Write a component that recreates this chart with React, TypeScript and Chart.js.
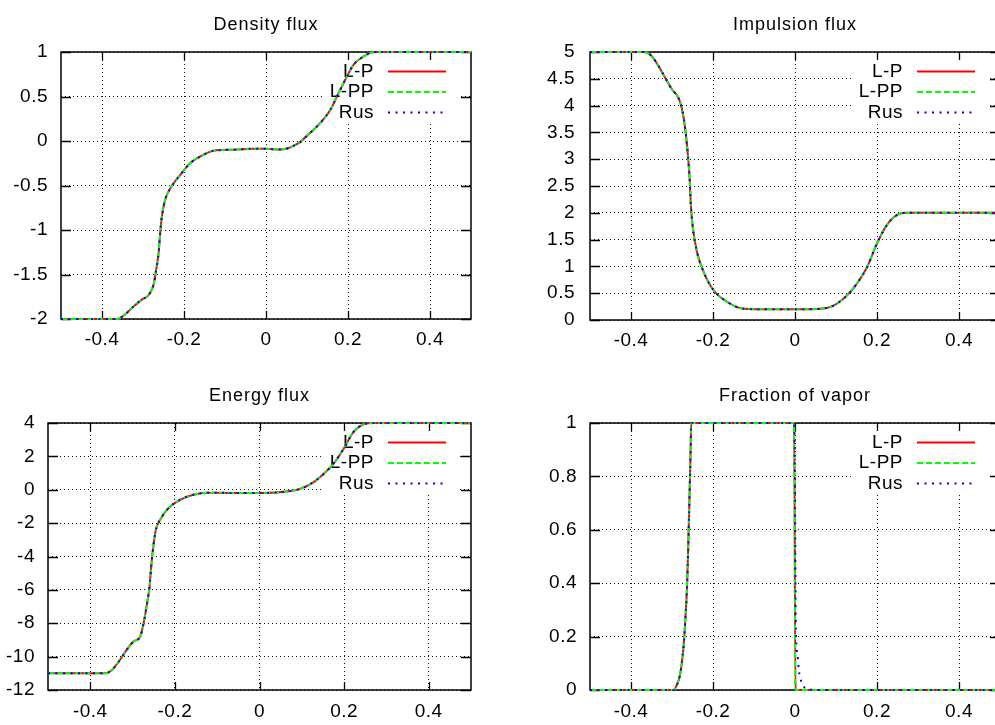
import React, { useEffect, useRef } from 'react';
import { Chart, registerables } from 'chart.js';

Chart.register(...registerables);

// ---------- data ----------
const seriesNames = ['L-P', 'L-PP', 'Rus'];
const seriesColors = ['#ff0000', '#00ff00', '#0000ff'];
const xTicks = [-0.4, -0.2, 0, 0.2, 0.4];

const densityYTicks = [-2, -1.5, -1, -0.5, 0, 0.5, 1];
const impulsionYTicks = [0, 0.5, 1, 1.5, 2, 2.5, 3, 3.5, 4, 4.5, 5];
const energyYTicks = [-12, -10, -8, -6, -4, -2, 0, 2, 4];
const vaporYTicks = [0, 0.2, 0.4, 0.6, 0.8, 1];

const densityX = [-0.5, -0.4, -0.363, -0.347, -0.323, -0.302, -0.286, -0.274, -0.268, -0.262, -0.258, -0.254, -0.246, -0.233, -0.209, -0.185, -0.152, -0.128, -0.079, -0.03, 0.0, 0.035, 0.051, 0.067, 0.084, 0.1, 0.116, 0.132, 0.157, 0.173, 0.198, 0.214, 0.238, 0.254, 0.27, 0.5];
const densityY = [-2, -2, -2, -1.96, -1.86, -1.78, -1.73, -1.61, -1.45, -1.26, -1.03, -0.85, -0.66, -0.53, -0.38, -0.25, -0.154, -0.109, -0.098, -0.087, -0.088, -0.095, -0.085, -0.055, -0.01, 0.06, 0.127, 0.2, 0.35, 0.5, 0.73, 0.86, 0.95, 0.99, 1, 1];

const impulsionX = [-0.5, -0.369, -0.353, -0.337, -0.316, -0.3, -0.284, -0.276, -0.268, -0.262, -0.257, -0.254, -0.249, -0.239, -0.223, -0.199, -0.166, -0.125, -0.068, 0.0, 0.062, 0.094, 0.127, 0.151, 0.176, 0.2, 0.224, 0.249, 0.273, 0.5];
const impulsionY = [5, 5, 4.95, 4.79, 4.51, 4.3, 4.14, 3.95, 3.58, 3.14, 2.64, 2.14, 1.71, 1.27, 0.9, 0.56, 0.34, 0.21, 0.2, 0.2, 0.21, 0.27, 0.46, 0.68, 0.99, 1.43, 1.77, 1.96, 2, 2];

const energyX = [-0.5, -0.365, -0.349, -0.33, -0.314, -0.298, -0.282, -0.274, -0.267, -0.26, -0.256, -0.251, -0.245, -0.235, -0.215, -0.188, -0.156, -0.125, 0.0, 0.073, 0.097, 0.128, 0.152, 0.175, 0.199, 0.222, 0.246, 0.27, 0.5];
const energyY = [-11, -11, -10.8, -10.2, -9.6, -9.1, -8.8, -8.0, -7.0, -5.8, -4.6, -3.4, -2.4, -1.8, -1.1, -0.6, -0.3, -0.18, -0.2, -0.08, 0.06, 0.46, 0.96, 1.56, 2.46, 3.46, 3.92, 4, 4];

const vaporX = [-0.5, -0.296, -0.288, -0.28, -0.272, -0.268, -0.263, -0.259, -0.255, -0.253, -0.002, 0.001, 0.5];
const vaporY = [0, 0, 0.02, 0.06, 0.16, 0.25, 0.4, 0.62, 0.87, 1, 1, 0, 0];
const vaporRusX = [-0.5, -0.296, -0.288, -0.28, -0.272, -0.268, -0.263, -0.259, -0.255, -0.253, -0.002, 0.0, 0.001, 0.002, 0.004, 0.007, 0.009, 0.013, 0.017, 0.025, 0.037, 0.05, 0.5];
const vaporRusY = [0, 0, 0.02, 0.06, 0.16, 0.25, 0.4, 0.62, 0.87, 1, 1, 0.75, 0.45, 0.25, 0.16, 0.12, 0.08, 0.045, 0.025, 0.007, 0.002, 0, 0];

// ---------- styling / layout ----------
const FONT = '"Liberation Sans", Arial, Helvetica, sans-serif';
const dashes: number[][] = [[], [6, 3], [2, 5.5]];

type Panel = {
  title: string;
  xs: number[][];
  ys: number[][];
  yMin: number;
  yMax: number;
  yTicks: number[];
  left: number;
  top: number;
  width: number;
  height: number;
  yAxisW: number;
  padTop: number;
  padRight: number;
  xAxisH: number;
  yPad: number;
  xPad: number;
};

const panels: Panel[] = [
  {
    title: 'Density flux',
    xs: [densityX, densityX, densityX],
    ys: [densityY, densityY, densityY],
    yMin: -2, yMax: 1, yTicks: densityYTicks,
    left: 0, top: 0, width: 497, height: 362,
    yAxisW: 61, padTop: 52, padRight: 26, xAxisH: 43, yPad: 13, xPad: 9,
  },
  {
    title: 'Impulsion flux',
    xs: [impulsionX, impulsionX, impulsionX],
    ys: [impulsionY, impulsionY, impulsionY],
    yMin: 0, yMax: 5, yTicks: impulsionYTicks,
    left: 497, top: 0, width: 530, height: 362,
    yAxisW: 93, padTop: 52, padRight: 27, xAxisH: 42, yPad: 15, xPad: 9,
  },
  {
    title: 'Energy flux',
    xs: [energyX, energyX, energyX],
    ys: [energyY, energyY, energyY],
    yMin: -12, yMax: 4, yTicks: energyYTicks,
    left: 0, top: 362, width: 497, height: 363,
    yAxisW: 48, padTop: 61, padRight: 26, xAxisH: 35, yPad: 13, xPad: 10,
  },
  {
    title: 'Fraction of vapor',
    xs: [vaporX, vaporX, vaporRusX],
    ys: [vaporY, vaporY, vaporRusY],
    yMin: 0, yMax: 1, yTicks: vaporYTicks,
    left: 497, top: 362, width: 530, height: 363,
    yAxisW: 93, padTop: 61, padRight: 27, xAxisH: 35, yPad: 13, xPad: 10,
  },
];

function makePlugin(p: Panel) {
  return {
    id: 'gnuplotDecor',
    beforeDraw(chart: any) {
      try { chart.ctx.letterSpacing = '0.5px'; } catch (e) { /* ignore */ }
    },
    beforeDatasetsDraw(chart: any) {
      const ctx = chart.ctx as CanvasRenderingContext2D;
      const ca = chart.chartArea;
      const xs = chart.scales.x;
      const ys = chart.scales.y;
      ctx.save();
      // legend background
      const R = ca.right;
      ctx.fillStyle = '#ffffff';
      ctx.fillRect(R - 147, ca.top + 4, 135, 68);
      // frame
      ctx.strokeStyle = '#000';
      ctx.lineWidth = 1.5;
      ctx.setLineDash([]);
      ctx.strokeRect(ca.left, ca.top, ca.right - ca.left, ca.bottom - ca.top);
      // inner ticks (mirrored)
      ctx.lineWidth = 1.3;
      ctx.beginPath();
      xTicks.forEach((v) => {
        const px = Math.round(xs.getPixelForValue(v)) + 0.5;
        ctx.moveTo(px, ca.bottom);
        ctx.lineTo(px, ca.bottom - 8);
        ctx.moveTo(px, ca.top);
        ctx.lineTo(px, ca.top + 8);
      });
      p.yTicks.forEach((v) => {
        const py = Math.round(ys.getPixelForValue(v)) + 0.5;
        ctx.moveTo(ca.left, py);
        ctx.lineTo(ca.left + 10, py);
        ctx.moveTo(ca.right, py);
        ctx.lineTo(ca.right - 10, py);
      });
      ctx.stroke();
      // legend entries
      ctx.font = `19px ${FONT}`;
      ctx.textAlign = 'right';
      ctx.textBaseline = 'middle';
      ctx.fillStyle = '#000';
      seriesNames.forEach((name, i) => {
        const y = ca.top + 19.5 + 20.5 * i;
        ctx.fillText(name, R - 97, y);
        ctx.strokeStyle = seriesColors[i];
        ctx.lineWidth = 2;
        ctx.setLineDash(dashes[i]);
        ctx.beginPath();
        ctx.moveTo(R - 83, y);
        ctx.lineTo(R - 25, y);
        ctx.stroke();
      });
      ctx.setLineDash([]);
      // title
      try { (ctx as any).letterSpacing = '1px'; } catch (e) { /* ignore */ }
      ctx.font = `18px ${FONT}`;
      ctx.textAlign = 'center';
      ctx.textBaseline = 'alphabetic';
      ctx.fillStyle = '#000';
      ctx.fillText(p.title, (ca.left + ca.right) / 2, ca.top - 22);
      ctx.restore();
    },
  };
}

function PanelChart({ p }: { p: Panel }) {
  const ref = useRef<HTMLCanvasElement>(null);
  useEffect(() => {
    const canvas = ref.current;
    if (!canvas) return;
    const datasets = seriesNames.map((name, i) => ({
      label: name,
      data: p.xs[i].map((x, j) => ({ x, y: p.ys[i][j] })),
      borderColor: seriesColors[i],
      backgroundColor: seriesColors[i],
      borderWidth: 2,
      borderDash: dashes[i],
      pointRadius: 0,
      pointHoverRadius: 0,
      fill: false,
      clip: 4,
      order: seriesNames.length - i,
      cubicInterpolationMode: 'monotone' as const,
    }));
    const tickFont = { family: FONT, size: 19 };
    const chart = new Chart(canvas, {
      type: 'line',
      data: { datasets },
      options: {
        animation: false,
        responsive: false,
        maintainAspectRatio: false,
        devicePixelRatio: 1,
        events: [],
        layout: { padding: { top: p.padTop, right: p.padRight, left: 0, bottom: 0 } },
        plugins: {
          legend: { display: false },
          title: { display: false },
          tooltip: { enabled: false },
        },
        scales: {
          x: {
            type: 'linear',
            min: -0.5,
            max: 0.5,
            afterBuildTicks: (s: any) => {
              s.ticks = xTicks.map((v) => ({ value: v }));
            },
            afterFit: (s: any) => {
              s.height = p.xAxisH;
            },
            grid: { color: '#111', lineWidth: 1, drawTicks: false },
            border: { display: false, dash: [1, 3] },
            ticks: {
              padding: p.xPad,
              font: tickFont,
              color: '#000',
              maxRotation: 0,
              autoSkip: false,
              callback: (v: any) => String(v),
            },
          },
          y: {
            type: 'linear',
            min: p.yMin,
            max: p.yMax,
            afterBuildTicks: (s: any) => {
              s.ticks = p.yTicks.map((v) => ({ value: v }));
            },
            afterFit: (s: any) => {
              s.width = p.yAxisW;
            },
            grid: { color: '#111', lineWidth: 1, drawTicks: false },
            border: { display: false, dash: [1, 3] },
            ticks: {
              padding: p.yPad,
              font: tickFont,
              color: '#000',
              autoSkip: false,
              callback: (v: any) => String(v),
            },
          },
        },
      } as any,
      plugins: [makePlugin(p)],
    });
    return () => chart.destroy();
  }, [p]);
  return (
    <canvas
      ref={ref}
      width={p.width}
      height={p.height}
      style={{ position: 'absolute', left: p.left, top: p.top, width: p.width, height: p.height }}
    />
  );
}

export default function App() {
  return (
    <div
      style={{
        position: 'absolute',
        left: 0,
        top: 0,
        width: 995,
        height: 725,
        overflow: 'hidden',
        background: '#fff',
      }}
    >
      {panels.map((p) => (
        <PanelChart key={p.title} p={p} />
      ))}
    </div>
  );
}
